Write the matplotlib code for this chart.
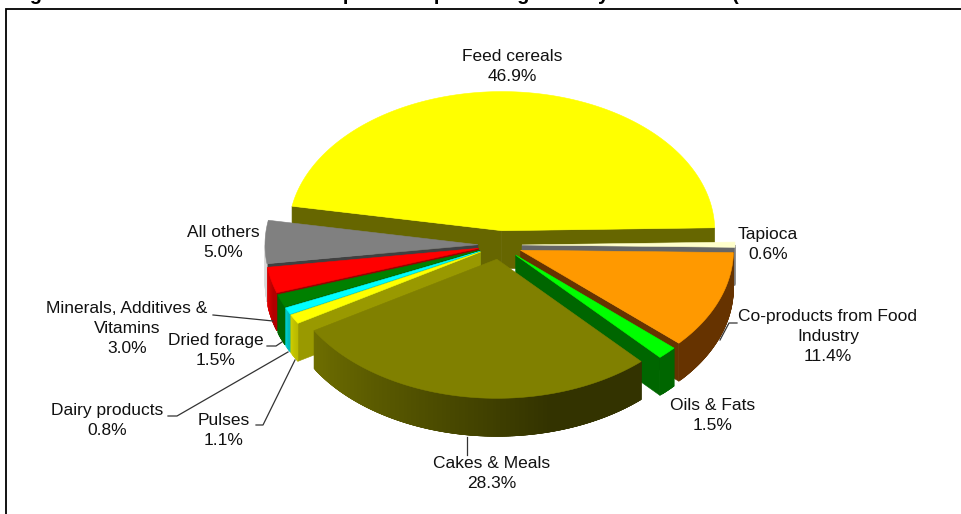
import numpy as np
import matplotlib
matplotlib.use('Agg')
import matplotlib.pyplot as plt
from matplotlib.patches import Polygon
from matplotlib.colors import to_rgb

# feed use shares, counter-clockwise from the right hand side
sources = ['Feed cereals', 'All others', 'Minerals, Additives &\nVitamins', 'Dried forage',
           'Dairy products', 'Pulses', 'Cakes & Meals', 'Oils & Fats',
           'Co-products from Food\nIndustry', 'Tapioca']
shares = [46.9, 5.0, 3.0, 1.5, 0.8, 1.1, 28.3, 1.5, 11.4, 0.6]

title = 'Figure 2: EU-27 mixed animal feed products percentage use by feed source (million tonnes EU-27 total in 2010)'

# top face, cut face, outer wall (left end), outer wall (right end)
colours = [('#ffff00', '#666600', '#666600', '#666600'),
           ('#808080', '#404040', '#d8d8d8', '#d8d8d8'),
           ('#ff0000', '#990000', '#e60000', '#b30000'),
           ('#008000', '#005500', '#006600', '#006600'),
           ('#00ffff', '#009999', '#00cccc', '#00bbbb'),
           ('#ffff00', '#999900', '#cccc00', '#bbbb00'),
           ('#808000', '#666600', '#6e6e00', '#333300'),
           ('#00ff00', '#006600', '#006600', '#006600'),
           ('#ff9900', '#663300', '#663300', '#663300'),
           ('#ffffcc', '#666666', '#808080', '#808080')]

# pie geometry in pixels
cx, cy = 500, 245
radius = 213
squash = 0.653
depth = 38
explode = 22
first_angle = 1.2

# label centre x, first line y
label_pos = [(512, 56), (223, 232), (127, 308), (216, 340), (107, 410),
             (224, 420), (492, 463), (713, 405), (828, 316), (768, 234)]

# leader lines
leaders = [[(213, 315), (273, 321)],
           [(267, 346), (276, 346), (282, 342)],
           [(168, 416), (177, 416), (288, 352)],
           [(256, 425), (263, 425), (295, 360)],
           [(467, 437), (467, 455)],
           [(737, 323), (729, 323), (720, 340)]]


def project(ox, oy, ang, r=radius):
    ang = np.radians(ang)
    return ox + r * np.cos(ang), oy - squash * r * np.sin(ang)


def fill(ax, pts, col):
    ax.add_patch(Polygon(pts, closed=True, facecolor=col, edgecolor=col, linewidth=0.4))


def draw_wedge(ax, a1, a2, cols):
    top, cut, wall1, wall2 = cols
    mid = np.radians((a1 + a2) / 2)
    ox = cx + explode * np.cos(mid)
    oy = cy - squash * explode * np.sin(mid)

    # cut faces that turn towards the viewer
    if np.sin(np.radians(a1 - 90)) < 0:
        p = project(ox, oy, a1)
        fill(ax, [(ox, oy), p, (p[0], p[1] + depth), (ox, oy + depth)], cut)
    if np.sin(np.radians(a2 + 90)) < 0:
        p = project(ox, oy, a2)
        fill(ax, [(ox, oy), p, (p[0], p[1] + depth), (ox, oy + depth)], cut)

    # rim, only the front half shows; each strip runs under the next one
    lo, hi = max(a1, 180), min(a2, 360)
    if hi > lo:
        steps = np.linspace(lo, hi, max(int(hi - lo) * 2, 3))
        c1, c2 = np.array(to_rgb(wall1)), np.array(to_rgb(wall2))
        for i in range(len(steps) - 1):
            t = min(1.0, i / (0.72 * (len(steps) - 1)))
            col = tuple(c1 + (c2 - c1) * t)
            p, q = project(ox, oy, steps[i]), project(ox, oy, min(steps[i] + 1.5, hi))
            fill(ax, [p, q, (q[0], q[1] + depth), (p[0], p[1] + depth)], col)

    arc = [project(ox, oy, a) for a in np.linspace(a1, a2, max(int(a2 - a1) * 2, 4))]
    fill(ax, [(ox, oy)] + arc, top)


fig = plt.figure(figsize=(9.62, 5.14), dpi=100)
ax = fig.add_axes([0, 0, 1, 1])
ax.set_xlim(0, 962)
ax.set_ylim(514, 0)
ax.axis('off')

# box round the chart, runs off the right and the bottom
ax.plot([6.5, 6.5, 962], [514, 8.5, 8.5], color='black', lw=1.3, solid_joinstyle='miter')

sweep = np.array(shares) * 360.0 / sum(shares)
starts = first_angle + np.concatenate(([0], np.cumsum(sweep)[:-1]))
ends = starts + sweep

# paint back to front
order = sorted(range(len(shares)), key=lambda i: -np.sin(np.radians((starts[i] + ends[i]) / 2)))
for i in order:
    draw_wedge(ax, starts[i], ends[i], colours[i])

for line in leaders:
    xs, ys = zip(*line)
    ax.plot(xs, ys, color='#333333', lw=0.9)

for name, val, (x, y) in zip(sources, shares, label_pos):
    ax.text(x, y - 7, name + '\n%.1f%%' % val, ha='center', va='top', family='Liberation Sans',
            fontsize=12.5, color='#111111', linespacing=1.4)

ax.text(12, -0.3, title, ha='left', va='baseline', family='Liberation Sans', fontweight='bold',
        fontsize=14.4, color='black', clip_on=False)

fig.savefig('out.png', dpi=100)
